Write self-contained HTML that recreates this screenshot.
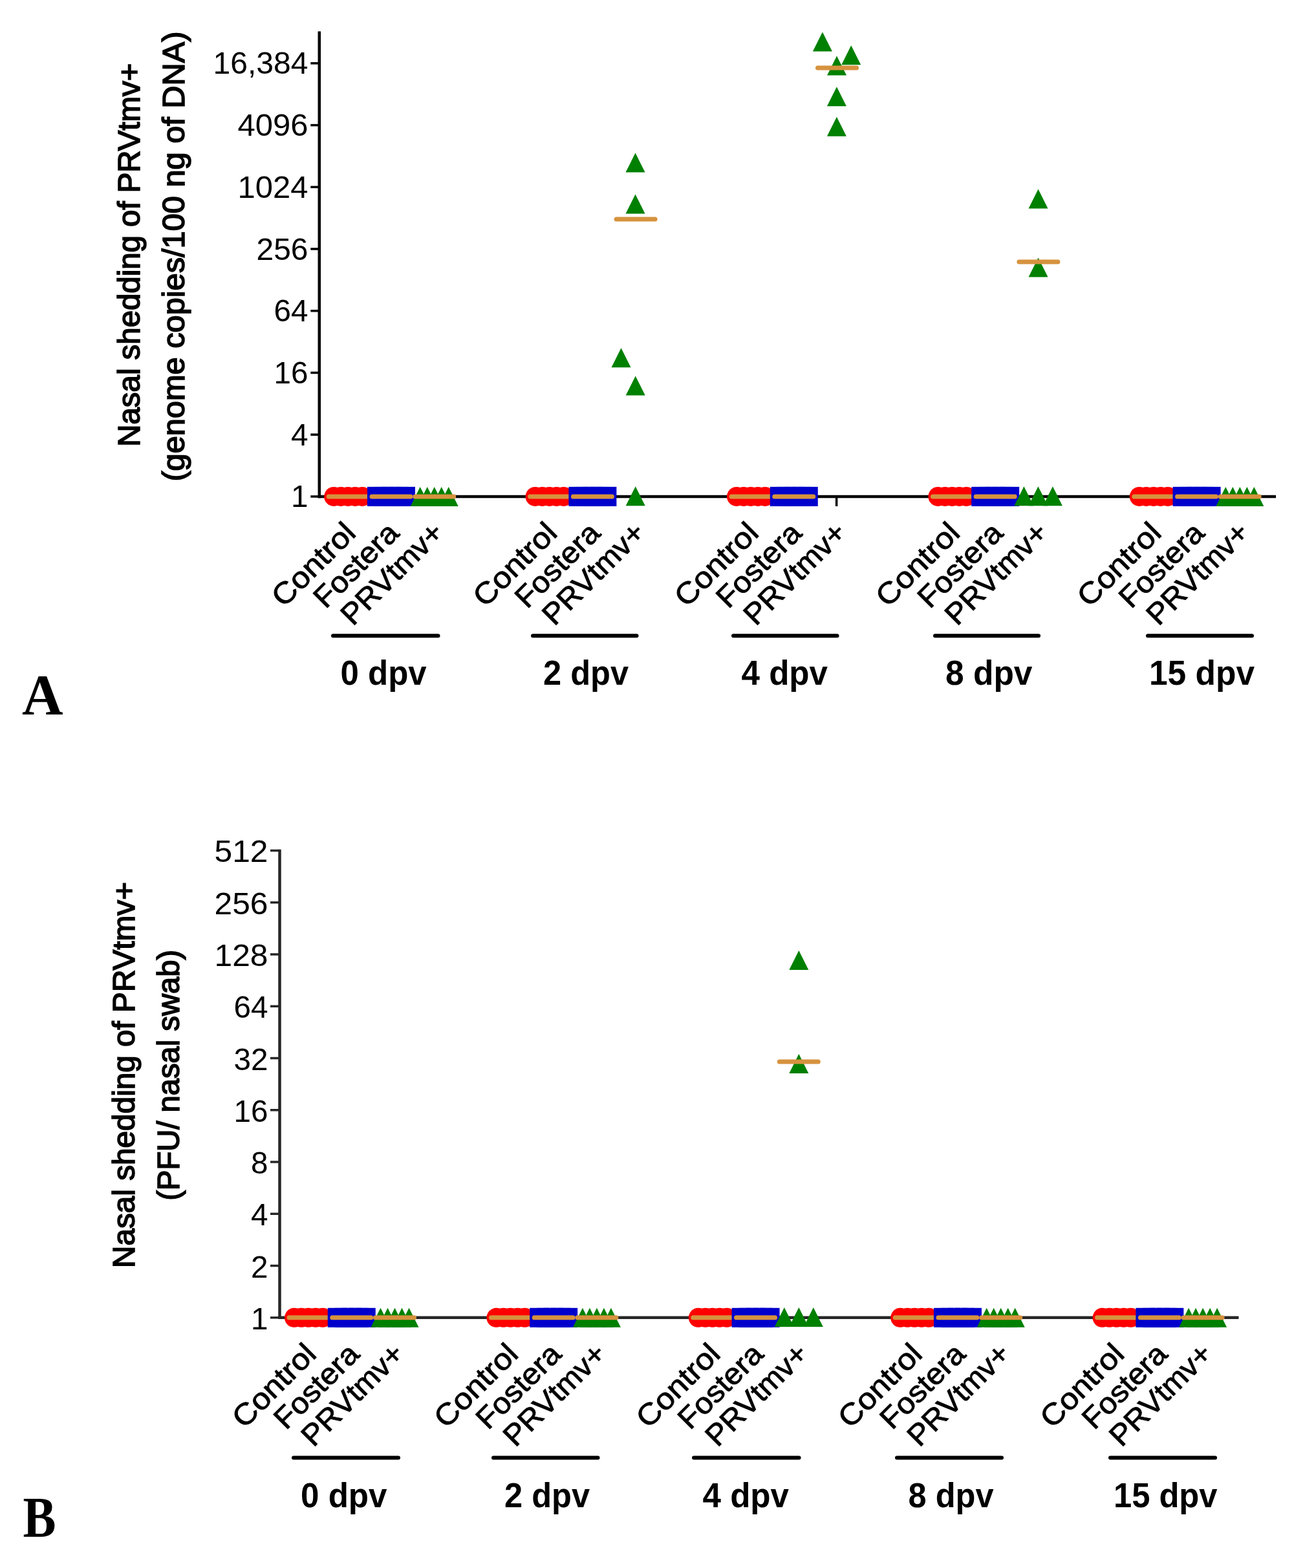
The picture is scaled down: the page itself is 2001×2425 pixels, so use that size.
<!DOCTYPE html>
<html><head><meta charset="utf-8"><title>Nasal shedding of PRVtmv+</title><style>html,body{margin:0;padding:0;background:#fff;}svg{display:block;}</style></head><body>
<svg width="2001" height="2425" viewBox="0 0 2001 2425">
<rect width="2001" height="2425" fill="#fff"/>
<text transform="translate(215.5,394.2) rotate(-90)" font-family="Liberation Sans, sans-serif" font-size="47.5" stroke="#000" stroke-width="1.6" text-anchor="middle" textLength="593" lengthAdjust="spacingAndGlyphs">Nasal shedding of PRVtmv+</text>
<text transform="translate(285,396.6) rotate(-90)" font-family="Liberation Sans, sans-serif" font-size="47.5" stroke="#000" stroke-width="1.6" text-anchor="middle" textLength="696" lengthAdjust="spacingAndGlyphs">(genome copies/100 ng of DNA)</text>
<line x1="480.3" y1="97.86" x2="493.8" y2="97.86" stroke="#000" stroke-width="3.5"/>
<text x="476.5" y="114.36" font-family="Liberation Sans, sans-serif" font-size="47.5" text-anchor="end" textLength="147" lengthAdjust="spacingAndGlyphs">16,384</text>
<line x1="480.3" y1="193.58" x2="493.8" y2="193.58" stroke="#000" stroke-width="3.5"/>
<text x="476.5" y="210.08" font-family="Liberation Sans, sans-serif" font-size="47.5" text-anchor="end" textLength="109" lengthAdjust="spacingAndGlyphs">4096</text>
<line x1="480.3" y1="289.30" x2="493.8" y2="289.30" stroke="#000" stroke-width="3.5"/>
<text x="476.5" y="305.80" font-family="Liberation Sans, sans-serif" font-size="47.5" text-anchor="end" textLength="109" lengthAdjust="spacingAndGlyphs">1024</text>
<line x1="480.3" y1="385.02" x2="493.8" y2="385.02" stroke="#000" stroke-width="3.5"/>
<text x="476.5" y="401.52" font-family="Liberation Sans, sans-serif" font-size="47.5" text-anchor="end" textLength="80" lengthAdjust="spacingAndGlyphs">256</text>
<line x1="480.3" y1="480.74" x2="493.8" y2="480.74" stroke="#000" stroke-width="3.5"/>
<text x="476.5" y="497.24" font-family="Liberation Sans, sans-serif" font-size="47.5" text-anchor="end" textLength="53" lengthAdjust="spacingAndGlyphs">64</text>
<line x1="480.3" y1="576.46" x2="493.8" y2="576.46" stroke="#000" stroke-width="3.5"/>
<text x="476.5" y="592.96" font-family="Liberation Sans, sans-serif" font-size="47.5" text-anchor="end" textLength="53" lengthAdjust="spacingAndGlyphs">16</text>
<line x1="480.3" y1="672.18" x2="493.8" y2="672.18" stroke="#000" stroke-width="3.5"/>
<text x="476.5" y="688.68" font-family="Liberation Sans, sans-serif" font-size="47.5" text-anchor="end" textLength="26.5" lengthAdjust="spacingAndGlyphs">4</text>
<line x1="480.3" y1="767.90" x2="493.8" y2="767.90" stroke="#000" stroke-width="3.5"/>
<text x="476.5" y="784.40" font-family="Liberation Sans, sans-serif" font-size="47.5" text-anchor="end" textLength="26.5" lengthAdjust="spacingAndGlyphs">1</text>
<line x1="493.8" y1="48.5" x2="493.8" y2="770.15" stroke="#000" stroke-width="4.5"/>
<line x1="491.55" y1="767.9" x2="1973" y2="767.9" stroke="#000" stroke-width="4.5"/>
<line x1="1293.6" y1="767.9" x2="1293.6" y2="782.9" stroke="#000" stroke-width="3.5"/>
<circle cx="516.20" cy="767.90" r="15.00" fill="#FF0000"/>
<circle cx="527.20" cy="767.90" r="15.00" fill="#FF0000"/>
<circle cx="538.20" cy="767.90" r="15.00" fill="#FF0000"/>
<circle cx="549.20" cy="767.90" r="15.00" fill="#FF0000"/>
<circle cx="560.20" cy="767.90" r="15.00" fill="#FF0000"/>
<line x1="508.20" y1="767.90" x2="568.20" y2="767.90" stroke="#D6923E" stroke-width="7" stroke-linecap="round"/>
<rect x="567.95" y="752.90" width="30" height="30" fill="#0000CC"/>
<rect x="578.95" y="752.90" width="30" height="30" fill="#0000CC"/>
<rect x="589.95" y="752.90" width="30" height="30" fill="#0000CC"/>
<rect x="600.95" y="752.90" width="30" height="30" fill="#0000CC"/>
<rect x="611.95" y="752.90" width="30" height="30" fill="#0000CC"/>
<line x1="574.95" y1="767.90" x2="634.95" y2="767.90" stroke="#D6923E" stroke-width="7" stroke-linecap="round"/>
<path d="M649.70,752.90L664.70,782.90L634.70,782.90Z" fill="#008000"/>
<path d="M660.70,752.90L675.70,782.90L645.70,782.90Z" fill="#008000"/>
<path d="M671.70,752.90L686.70,782.90L656.70,782.90Z" fill="#008000"/>
<path d="M682.70,752.90L697.70,782.90L667.70,782.90Z" fill="#008000"/>
<path d="M693.70,752.90L708.70,782.90L678.70,782.90Z" fill="#008000"/>
<line x1="641.70" y1="767.90" x2="701.70" y2="767.90" stroke="#D6923E" stroke-width="7" stroke-linecap="round"/>
<circle cx="827.60" cy="767.90" r="15.00" fill="#FF0000"/>
<circle cx="838.60" cy="767.90" r="15.00" fill="#FF0000"/>
<circle cx="849.60" cy="767.90" r="15.00" fill="#FF0000"/>
<circle cx="860.60" cy="767.90" r="15.00" fill="#FF0000"/>
<circle cx="871.60" cy="767.90" r="15.00" fill="#FF0000"/>
<line x1="819.60" y1="767.90" x2="879.60" y2="767.90" stroke="#D6923E" stroke-width="7" stroke-linecap="round"/>
<rect x="879.35" y="752.90" width="30" height="30" fill="#0000CC"/>
<rect x="890.35" y="752.90" width="30" height="30" fill="#0000CC"/>
<rect x="901.35" y="752.90" width="30" height="30" fill="#0000CC"/>
<rect x="912.35" y="752.90" width="30" height="30" fill="#0000CC"/>
<rect x="923.35" y="752.90" width="30" height="30" fill="#0000CC"/>
<line x1="886.35" y1="767.90" x2="946.35" y2="767.90" stroke="#D6923E" stroke-width="7" stroke-linecap="round"/>
<path d="M982.50,236.60L997.50,266.60L967.50,266.60Z" fill="#008000"/>
<path d="M982.50,300.50L997.50,330.50L967.50,330.50Z" fill="#008000"/>
<path d="M960.50,538.25L975.50,568.25L945.50,568.25Z" fill="#008000"/>
<path d="M982.70,581.50L997.70,611.50L967.70,611.50Z" fill="#008000"/>
<path d="M982.70,752.20L997.70,782.20L967.70,782.20Z" fill="#008000"/>
<line x1="953.10" y1="339.00" x2="1013.10" y2="339.00" stroke="#D6923E" stroke-width="7" stroke-linecap="round"/>
<circle cx="1139.00" cy="767.90" r="15.00" fill="#FF0000"/>
<circle cx="1150.00" cy="767.90" r="15.00" fill="#FF0000"/>
<circle cx="1161.00" cy="767.90" r="15.00" fill="#FF0000"/>
<circle cx="1172.00" cy="767.90" r="15.00" fill="#FF0000"/>
<circle cx="1183.00" cy="767.90" r="15.00" fill="#FF0000"/>
<line x1="1131.00" y1="767.90" x2="1191.00" y2="767.90" stroke="#D6923E" stroke-width="7" stroke-linecap="round"/>
<rect x="1190.75" y="752.90" width="30" height="30" fill="#0000CC"/>
<rect x="1201.75" y="752.90" width="30" height="30" fill="#0000CC"/>
<rect x="1212.75" y="752.90" width="30" height="30" fill="#0000CC"/>
<rect x="1223.75" y="752.90" width="30" height="30" fill="#0000CC"/>
<rect x="1234.75" y="752.90" width="30" height="30" fill="#0000CC"/>
<line x1="1197.75" y1="767.90" x2="1257.75" y2="767.90" stroke="#D6923E" stroke-width="7" stroke-linecap="round"/>
<path d="M1271.90,49.60L1286.90,79.60L1256.90,79.60Z" fill="#008000"/>
<path d="M1316.20,70.20L1331.20,100.20L1301.20,100.20Z" fill="#008000"/>
<path d="M1294.00,86.60L1309.00,116.60L1279.00,116.60Z" fill="#008000"/>
<path d="M1293.90,134.25L1308.90,164.25L1278.90,164.25Z" fill="#008000"/>
<path d="M1293.90,180.70L1308.90,210.70L1278.90,210.70Z" fill="#008000"/>
<line x1="1264.50" y1="105.00" x2="1324.50" y2="105.00" stroke="#D6923E" stroke-width="7" stroke-linecap="round"/>
<circle cx="1450.40" cy="767.90" r="15.00" fill="#FF0000"/>
<circle cx="1461.40" cy="767.90" r="15.00" fill="#FF0000"/>
<circle cx="1472.40" cy="767.90" r="15.00" fill="#FF0000"/>
<circle cx="1483.40" cy="767.90" r="15.00" fill="#FF0000"/>
<circle cx="1494.40" cy="767.90" r="15.00" fill="#FF0000"/>
<line x1="1442.40" y1="767.90" x2="1502.40" y2="767.90" stroke="#D6923E" stroke-width="7" stroke-linecap="round"/>
<rect x="1502.15" y="752.90" width="30" height="30" fill="#0000CC"/>
<rect x="1513.15" y="752.90" width="30" height="30" fill="#0000CC"/>
<rect x="1524.15" y="752.90" width="30" height="30" fill="#0000CC"/>
<rect x="1535.15" y="752.90" width="30" height="30" fill="#0000CC"/>
<rect x="1546.15" y="752.90" width="30" height="30" fill="#0000CC"/>
<line x1="1509.15" y1="767.90" x2="1569.15" y2="767.90" stroke="#D6923E" stroke-width="7" stroke-linecap="round"/>
<path d="M1605.50,292.50L1620.50,322.50L1590.50,322.50Z" fill="#008000"/>
<path d="M1605.50,398.50L1620.50,428.50L1590.50,428.50Z" fill="#008000"/>
<path d="M1583.40,752.20L1598.40,782.20L1568.40,782.20Z" fill="#008000"/>
<path d="M1605.40,752.20L1620.40,782.20L1590.40,782.20Z" fill="#008000"/>
<path d="M1627.90,752.20L1642.90,782.20L1612.90,782.20Z" fill="#008000"/>
<line x1="1575.90" y1="405.00" x2="1635.90" y2="405.00" stroke="#D6923E" stroke-width="7" stroke-linecap="round"/>
<circle cx="1761.80" cy="767.90" r="15.00" fill="#FF0000"/>
<circle cx="1772.80" cy="767.90" r="15.00" fill="#FF0000"/>
<circle cx="1783.80" cy="767.90" r="15.00" fill="#FF0000"/>
<circle cx="1794.80" cy="767.90" r="15.00" fill="#FF0000"/>
<circle cx="1805.80" cy="767.90" r="15.00" fill="#FF0000"/>
<line x1="1753.80" y1="767.90" x2="1813.80" y2="767.90" stroke="#D6923E" stroke-width="7" stroke-linecap="round"/>
<rect x="1813.55" y="752.90" width="30" height="30" fill="#0000CC"/>
<rect x="1824.55" y="752.90" width="30" height="30" fill="#0000CC"/>
<rect x="1835.55" y="752.90" width="30" height="30" fill="#0000CC"/>
<rect x="1846.55" y="752.90" width="30" height="30" fill="#0000CC"/>
<rect x="1857.55" y="752.90" width="30" height="30" fill="#0000CC"/>
<line x1="1820.55" y1="767.90" x2="1880.55" y2="767.90" stroke="#D6923E" stroke-width="7" stroke-linecap="round"/>
<path d="M1895.30,752.90L1910.30,782.90L1880.30,782.90Z" fill="#008000"/>
<path d="M1906.30,752.90L1921.30,782.90L1891.30,782.90Z" fill="#008000"/>
<path d="M1917.30,752.90L1932.30,782.90L1902.30,782.90Z" fill="#008000"/>
<path d="M1928.30,752.90L1943.30,782.90L1913.30,782.90Z" fill="#008000"/>
<path d="M1939.30,752.90L1954.30,782.90L1924.30,782.90Z" fill="#008000"/>
<line x1="1887.30" y1="767.90" x2="1947.30" y2="767.90" stroke="#D6923E" stroke-width="7" stroke-linecap="round"/>
<text transform="translate(552.70,826.90) rotate(-45)" font-family="Liberation Sans, sans-serif" font-size="46" stroke="#000" stroke-width="0.9" text-anchor="end" textLength="161" lengthAdjust="spacingAndGlyphs">Control</text>
<text transform="translate(619.45,826.90) rotate(-45)" font-family="Liberation Sans, sans-serif" font-size="46" stroke="#000" stroke-width="0.9" text-anchor="end" textLength="164" lengthAdjust="spacingAndGlyphs">Fostera</text>
<text transform="translate(688.70,826.40) rotate(-45)" font-family="Liberation Sans, sans-serif" font-size="46" stroke="#000" stroke-width="0.9" text-anchor="end" textLength="202" lengthAdjust="spacingAndGlyphs">PRVtmv+</text>
<text transform="translate(864.10,826.90) rotate(-45)" font-family="Liberation Sans, sans-serif" font-size="46" stroke="#000" stroke-width="0.9" text-anchor="end" textLength="161" lengthAdjust="spacingAndGlyphs">Control</text>
<text transform="translate(930.85,826.90) rotate(-45)" font-family="Liberation Sans, sans-serif" font-size="46" stroke="#000" stroke-width="0.9" text-anchor="end" textLength="164" lengthAdjust="spacingAndGlyphs">Fostera</text>
<text transform="translate(1000.10,826.40) rotate(-45)" font-family="Liberation Sans, sans-serif" font-size="46" stroke="#000" stroke-width="0.9" text-anchor="end" textLength="202" lengthAdjust="spacingAndGlyphs">PRVtmv+</text>
<text transform="translate(1175.50,826.90) rotate(-45)" font-family="Liberation Sans, sans-serif" font-size="46" stroke="#000" stroke-width="0.9" text-anchor="end" textLength="161" lengthAdjust="spacingAndGlyphs">Control</text>
<text transform="translate(1242.25,826.90) rotate(-45)" font-family="Liberation Sans, sans-serif" font-size="46" stroke="#000" stroke-width="0.9" text-anchor="end" textLength="164" lengthAdjust="spacingAndGlyphs">Fostera</text>
<text transform="translate(1311.50,826.40) rotate(-45)" font-family="Liberation Sans, sans-serif" font-size="46" stroke="#000" stroke-width="0.9" text-anchor="end" textLength="202" lengthAdjust="spacingAndGlyphs">PRVtmv+</text>
<text transform="translate(1486.90,826.90) rotate(-45)" font-family="Liberation Sans, sans-serif" font-size="46" stroke="#000" stroke-width="0.9" text-anchor="end" textLength="161" lengthAdjust="spacingAndGlyphs">Control</text>
<text transform="translate(1553.65,826.90) rotate(-45)" font-family="Liberation Sans, sans-serif" font-size="46" stroke="#000" stroke-width="0.9" text-anchor="end" textLength="164" lengthAdjust="spacingAndGlyphs">Fostera</text>
<text transform="translate(1622.90,826.40) rotate(-45)" font-family="Liberation Sans, sans-serif" font-size="46" stroke="#000" stroke-width="0.9" text-anchor="end" textLength="202" lengthAdjust="spacingAndGlyphs">PRVtmv+</text>
<text transform="translate(1798.30,826.90) rotate(-45)" font-family="Liberation Sans, sans-serif" font-size="46" stroke="#000" stroke-width="0.9" text-anchor="end" textLength="161" lengthAdjust="spacingAndGlyphs">Control</text>
<text transform="translate(1865.05,826.90) rotate(-45)" font-family="Liberation Sans, sans-serif" font-size="46" stroke="#000" stroke-width="0.9" text-anchor="end" textLength="164" lengthAdjust="spacingAndGlyphs">Fostera</text>
<text transform="translate(1934.30,826.40) rotate(-45)" font-family="Liberation Sans, sans-serif" font-size="46" stroke="#000" stroke-width="0.9" text-anchor="end" textLength="202" lengthAdjust="spacingAndGlyphs">PRVtmv+</text>
<line x1="515" y1="983.25" x2="677.5" y2="983.25" stroke="#000" stroke-width="6" stroke-linecap="round"/>
<text x="593.12" y="1058.6" font-family="Liberation Sans, sans-serif" font-weight="bold" font-size="54" text-anchor="middle" textLength="133.25" lengthAdjust="spacingAndGlyphs">0 dpv</text>
<line x1="824" y1="983.25" x2="984.5" y2="983.25" stroke="#000" stroke-width="6" stroke-linecap="round"/>
<text x="906.00" y="1058.6" font-family="Liberation Sans, sans-serif" font-weight="bold" font-size="54" text-anchor="middle" textLength="132" lengthAdjust="spacingAndGlyphs">2 dpv</text>
<line x1="1134" y1="983.25" x2="1294.5" y2="983.25" stroke="#000" stroke-width="6" stroke-linecap="round"/>
<text x="1213.25" y="1058.6" font-family="Liberation Sans, sans-serif" font-weight="bold" font-size="54" text-anchor="middle" textLength="133.5" lengthAdjust="spacingAndGlyphs">4 dpv</text>
<line x1="1446" y1="983.25" x2="1606" y2="983.25" stroke="#000" stroke-width="6" stroke-linecap="round"/>
<text x="1529.25" y="1058.6" font-family="Liberation Sans, sans-serif" font-weight="bold" font-size="54" text-anchor="middle" textLength="134.5" lengthAdjust="spacingAndGlyphs">8 dpv</text>
<line x1="1775" y1="983.25" x2="1936" y2="983.25" stroke="#000" stroke-width="6" stroke-linecap="round"/>
<text x="1858.50" y="1058.6" font-family="Liberation Sans, sans-serif" font-weight="bold" font-size="54" text-anchor="middle" textLength="163" lengthAdjust="spacingAndGlyphs">15 dpv</text>
<text x="34" y="1104" font-family="Liberation Serif, serif" font-weight="bold" font-size="88">A</text>
<text transform="translate(207.5,1662.5) rotate(-90)" font-family="Liberation Sans, sans-serif" font-size="47.5" stroke="#000" stroke-width="1.6" text-anchor="middle" textLength="597" lengthAdjust="spacingAndGlyphs">Nasal shedding of PRVtmv+</text>
<text transform="translate(277.2,1662.8) rotate(-90)" font-family="Liberation Sans, sans-serif" font-size="47.5" stroke="#000" stroke-width="1.6" text-anchor="middle" textLength="388" lengthAdjust="spacingAndGlyphs">(PFU/ nasal swab)</text>
<line x1="418.0" y1="1315.46" x2="432.5" y2="1315.46" stroke="#262626" stroke-width="3.5"/>
<text x="414.5" y="1333.46" font-family="Liberation Sans, sans-serif" font-size="47.5" text-anchor="end" textLength="83" lengthAdjust="spacingAndGlyphs">512</text>
<line x1="418.0" y1="1395.72" x2="432.5" y2="1395.72" stroke="#262626" stroke-width="3.5"/>
<text x="414.5" y="1413.72" font-family="Liberation Sans, sans-serif" font-size="47.5" text-anchor="end" textLength="83" lengthAdjust="spacingAndGlyphs">256</text>
<line x1="418.0" y1="1475.98" x2="432.5" y2="1475.98" stroke="#262626" stroke-width="3.5"/>
<text x="414.5" y="1493.98" font-family="Liberation Sans, sans-serif" font-size="47.5" text-anchor="end" textLength="83" lengthAdjust="spacingAndGlyphs">128</text>
<line x1="418.0" y1="1556.24" x2="432.5" y2="1556.24" stroke="#262626" stroke-width="3.5"/>
<text x="414.5" y="1574.24" font-family="Liberation Sans, sans-serif" font-size="47.5" text-anchor="end" textLength="53" lengthAdjust="spacingAndGlyphs">64</text>
<line x1="418.0" y1="1636.50" x2="432.5" y2="1636.50" stroke="#262626" stroke-width="3.5"/>
<text x="414.5" y="1654.50" font-family="Liberation Sans, sans-serif" font-size="47.5" text-anchor="end" textLength="53" lengthAdjust="spacingAndGlyphs">32</text>
<line x1="418.0" y1="1716.76" x2="432.5" y2="1716.76" stroke="#262626" stroke-width="3.5"/>
<text x="414.5" y="1734.76" font-family="Liberation Sans, sans-serif" font-size="47.5" text-anchor="end" textLength="53" lengthAdjust="spacingAndGlyphs">16</text>
<line x1="418.0" y1="1797.02" x2="432.5" y2="1797.02" stroke="#262626" stroke-width="3.5"/>
<text x="414.5" y="1815.02" font-family="Liberation Sans, sans-serif" font-size="47.5" text-anchor="end" textLength="26.5" lengthAdjust="spacingAndGlyphs">8</text>
<line x1="418.0" y1="1877.28" x2="432.5" y2="1877.28" stroke="#262626" stroke-width="3.5"/>
<text x="414.5" y="1895.28" font-family="Liberation Sans, sans-serif" font-size="47.5" text-anchor="end" textLength="26.5" lengthAdjust="spacingAndGlyphs">4</text>
<line x1="418.0" y1="1957.54" x2="432.5" y2="1957.54" stroke="#262626" stroke-width="3.5"/>
<text x="414.5" y="1975.54" font-family="Liberation Sans, sans-serif" font-size="47.5" text-anchor="end" textLength="26.5" lengthAdjust="spacingAndGlyphs">2</text>
<line x1="418.0" y1="2037.80" x2="432.5" y2="2037.80" stroke="#262626" stroke-width="3.5"/>
<text x="414.5" y="2055.80" font-family="Liberation Sans, sans-serif" font-size="47.5" text-anchor="end" textLength="26.5" lengthAdjust="spacingAndGlyphs">1</text>
<line x1="432.5" y1="1313.8" x2="432.5" y2="2040.05" stroke="#262626" stroke-width="4.5"/>
<line x1="430.25" y1="2037.8" x2="1915.5" y2="2037.8" stroke="#262626" stroke-width="4.5"/>
<circle cx="455.00" cy="2037.80" r="15.00" fill="#FF0000"/>
<circle cx="466.00" cy="2037.80" r="15.00" fill="#FF0000"/>
<circle cx="477.00" cy="2037.80" r="15.00" fill="#FF0000"/>
<circle cx="488.00" cy="2037.80" r="15.00" fill="#FF0000"/>
<circle cx="499.00" cy="2037.80" r="15.00" fill="#FF0000"/>
<line x1="447.00" y1="2037.80" x2="507.00" y2="2037.80" stroke="#D6923E" stroke-width="7" stroke-linecap="round"/>
<rect x="506.75" y="2022.80" width="30" height="30" fill="#0000CC"/>
<rect x="517.75" y="2022.80" width="30" height="30" fill="#0000CC"/>
<rect x="528.75" y="2022.80" width="30" height="30" fill="#0000CC"/>
<rect x="539.75" y="2022.80" width="30" height="30" fill="#0000CC"/>
<rect x="550.75" y="2022.80" width="30" height="30" fill="#0000CC"/>
<line x1="513.75" y1="2037.80" x2="573.75" y2="2037.80" stroke="#D6923E" stroke-width="7" stroke-linecap="round"/>
<path d="M588.50,2022.80L603.50,2052.80L573.50,2052.80Z" fill="#008000"/>
<path d="M599.50,2022.80L614.50,2052.80L584.50,2052.80Z" fill="#008000"/>
<path d="M610.50,2022.80L625.50,2052.80L595.50,2052.80Z" fill="#008000"/>
<path d="M621.50,2022.80L636.50,2052.80L606.50,2052.80Z" fill="#008000"/>
<path d="M632.50,2022.80L647.50,2052.80L617.50,2052.80Z" fill="#008000"/>
<line x1="580.50" y1="2037.80" x2="640.50" y2="2037.80" stroke="#D6923E" stroke-width="7" stroke-linecap="round"/>
<circle cx="767.40" cy="2037.80" r="15.00" fill="#FF0000"/>
<circle cx="778.40" cy="2037.80" r="15.00" fill="#FF0000"/>
<circle cx="789.40" cy="2037.80" r="15.00" fill="#FF0000"/>
<circle cx="800.40" cy="2037.80" r="15.00" fill="#FF0000"/>
<circle cx="811.40" cy="2037.80" r="15.00" fill="#FF0000"/>
<line x1="759.40" y1="2037.80" x2="819.40" y2="2037.80" stroke="#D6923E" stroke-width="7" stroke-linecap="round"/>
<rect x="819.15" y="2022.80" width="30" height="30" fill="#0000CC"/>
<rect x="830.15" y="2022.80" width="30" height="30" fill="#0000CC"/>
<rect x="841.15" y="2022.80" width="30" height="30" fill="#0000CC"/>
<rect x="852.15" y="2022.80" width="30" height="30" fill="#0000CC"/>
<rect x="863.15" y="2022.80" width="30" height="30" fill="#0000CC"/>
<line x1="826.15" y1="2037.80" x2="886.15" y2="2037.80" stroke="#D6923E" stroke-width="7" stroke-linecap="round"/>
<path d="M900.90,2022.80L915.90,2052.80L885.90,2052.80Z" fill="#008000"/>
<path d="M911.90,2022.80L926.90,2052.80L896.90,2052.80Z" fill="#008000"/>
<path d="M922.90,2022.80L937.90,2052.80L907.90,2052.80Z" fill="#008000"/>
<path d="M933.90,2022.80L948.90,2052.80L918.90,2052.80Z" fill="#008000"/>
<path d="M944.90,2022.80L959.90,2052.80L929.90,2052.80Z" fill="#008000"/>
<line x1="892.90" y1="2037.80" x2="952.90" y2="2037.80" stroke="#D6923E" stroke-width="7" stroke-linecap="round"/>
<circle cx="1079.80" cy="2037.80" r="15.00" fill="#FF0000"/>
<circle cx="1090.80" cy="2037.80" r="15.00" fill="#FF0000"/>
<circle cx="1101.80" cy="2037.80" r="15.00" fill="#FF0000"/>
<circle cx="1112.80" cy="2037.80" r="15.00" fill="#FF0000"/>
<circle cx="1123.80" cy="2037.80" r="15.00" fill="#FF0000"/>
<line x1="1071.80" y1="2037.80" x2="1131.80" y2="2037.80" stroke="#D6923E" stroke-width="7" stroke-linecap="round"/>
<rect x="1131.55" y="2022.80" width="30" height="30" fill="#0000CC"/>
<rect x="1142.55" y="2022.80" width="30" height="30" fill="#0000CC"/>
<rect x="1153.55" y="2022.80" width="30" height="30" fill="#0000CC"/>
<rect x="1164.55" y="2022.80" width="30" height="30" fill="#0000CC"/>
<rect x="1175.55" y="2022.80" width="30" height="30" fill="#0000CC"/>
<line x1="1138.55" y1="2037.80" x2="1198.55" y2="2037.80" stroke="#D6923E" stroke-width="7" stroke-linecap="round"/>
<path d="M1235.30,1470.00L1250.30,1500.00L1220.30,1500.00Z" fill="#008000"/>
<path d="M1235.30,1630.00L1250.30,1660.00L1220.30,1660.00Z" fill="#008000"/>
<path d="M1212.80,2022.00L1227.80,2052.00L1197.80,2052.00Z" fill="#008000"/>
<path d="M1235.30,2022.00L1250.30,2052.00L1220.30,2052.00Z" fill="#008000"/>
<path d="M1257.80,2022.00L1272.80,2052.00L1242.80,2052.00Z" fill="#008000"/>
<line x1="1205.30" y1="1642.00" x2="1265.30" y2="1642.00" stroke="#D6923E" stroke-width="7" stroke-linecap="round"/>
<circle cx="1392.20" cy="2037.80" r="15.00" fill="#FF0000"/>
<circle cx="1403.20" cy="2037.80" r="15.00" fill="#FF0000"/>
<circle cx="1414.20" cy="2037.80" r="15.00" fill="#FF0000"/>
<circle cx="1425.20" cy="2037.80" r="15.00" fill="#FF0000"/>
<circle cx="1436.20" cy="2037.80" r="15.00" fill="#FF0000"/>
<line x1="1384.20" y1="2037.80" x2="1444.20" y2="2037.80" stroke="#D6923E" stroke-width="7" stroke-linecap="round"/>
<rect x="1443.95" y="2022.80" width="30" height="30" fill="#0000CC"/>
<rect x="1454.95" y="2022.80" width="30" height="30" fill="#0000CC"/>
<rect x="1465.95" y="2022.80" width="30" height="30" fill="#0000CC"/>
<rect x="1476.95" y="2022.80" width="30" height="30" fill="#0000CC"/>
<rect x="1487.95" y="2022.80" width="30" height="30" fill="#0000CC"/>
<line x1="1450.95" y1="2037.80" x2="1510.95" y2="2037.80" stroke="#D6923E" stroke-width="7" stroke-linecap="round"/>
<path d="M1525.70,2022.80L1540.70,2052.80L1510.70,2052.80Z" fill="#008000"/>
<path d="M1536.70,2022.80L1551.70,2052.80L1521.70,2052.80Z" fill="#008000"/>
<path d="M1547.70,2022.80L1562.70,2052.80L1532.70,2052.80Z" fill="#008000"/>
<path d="M1558.70,2022.80L1573.70,2052.80L1543.70,2052.80Z" fill="#008000"/>
<path d="M1569.70,2022.80L1584.70,2052.80L1554.70,2052.80Z" fill="#008000"/>
<line x1="1517.70" y1="2037.80" x2="1577.70" y2="2037.80" stroke="#D6923E" stroke-width="7" stroke-linecap="round"/>
<circle cx="1704.60" cy="2037.80" r="15.00" fill="#FF0000"/>
<circle cx="1715.60" cy="2037.80" r="15.00" fill="#FF0000"/>
<circle cx="1726.60" cy="2037.80" r="15.00" fill="#FF0000"/>
<circle cx="1737.60" cy="2037.80" r="15.00" fill="#FF0000"/>
<circle cx="1748.60" cy="2037.80" r="15.00" fill="#FF0000"/>
<line x1="1696.60" y1="2037.80" x2="1756.60" y2="2037.80" stroke="#D6923E" stroke-width="7" stroke-linecap="round"/>
<rect x="1756.35" y="2022.80" width="30" height="30" fill="#0000CC"/>
<rect x="1767.35" y="2022.80" width="30" height="30" fill="#0000CC"/>
<rect x="1778.35" y="2022.80" width="30" height="30" fill="#0000CC"/>
<rect x="1789.35" y="2022.80" width="30" height="30" fill="#0000CC"/>
<rect x="1800.35" y="2022.80" width="30" height="30" fill="#0000CC"/>
<line x1="1763.35" y1="2037.80" x2="1823.35" y2="2037.80" stroke="#D6923E" stroke-width="7" stroke-linecap="round"/>
<path d="M1838.10,2022.80L1853.10,2052.80L1823.10,2052.80Z" fill="#008000"/>
<path d="M1849.10,2022.80L1864.10,2052.80L1834.10,2052.80Z" fill="#008000"/>
<path d="M1860.10,2022.80L1875.10,2052.80L1845.10,2052.80Z" fill="#008000"/>
<path d="M1871.10,2022.80L1886.10,2052.80L1856.10,2052.80Z" fill="#008000"/>
<path d="M1882.10,2022.80L1897.10,2052.80L1867.10,2052.80Z" fill="#008000"/>
<line x1="1830.10" y1="2037.80" x2="1890.10" y2="2037.80" stroke="#D6923E" stroke-width="7" stroke-linecap="round"/>
<text transform="translate(491.50,2096.80) rotate(-45)" font-family="Liberation Sans, sans-serif" font-size="46" stroke="#000" stroke-width="0.9" text-anchor="end" textLength="161" lengthAdjust="spacingAndGlyphs">Control</text>
<text transform="translate(558.25,2096.80) rotate(-45)" font-family="Liberation Sans, sans-serif" font-size="46" stroke="#000" stroke-width="0.9" text-anchor="end" textLength="164" lengthAdjust="spacingAndGlyphs">Fostera</text>
<text transform="translate(627.50,2096.30) rotate(-45)" font-family="Liberation Sans, sans-serif" font-size="46" stroke="#000" stroke-width="0.9" text-anchor="end" textLength="202" lengthAdjust="spacingAndGlyphs">PRVtmv+</text>
<text transform="translate(803.90,2096.80) rotate(-45)" font-family="Liberation Sans, sans-serif" font-size="46" stroke="#000" stroke-width="0.9" text-anchor="end" textLength="161" lengthAdjust="spacingAndGlyphs">Control</text>
<text transform="translate(870.65,2096.80) rotate(-45)" font-family="Liberation Sans, sans-serif" font-size="46" stroke="#000" stroke-width="0.9" text-anchor="end" textLength="164" lengthAdjust="spacingAndGlyphs">Fostera</text>
<text transform="translate(939.90,2096.30) rotate(-45)" font-family="Liberation Sans, sans-serif" font-size="46" stroke="#000" stroke-width="0.9" text-anchor="end" textLength="202" lengthAdjust="spacingAndGlyphs">PRVtmv+</text>
<text transform="translate(1116.30,2096.80) rotate(-45)" font-family="Liberation Sans, sans-serif" font-size="46" stroke="#000" stroke-width="0.9" text-anchor="end" textLength="161" lengthAdjust="spacingAndGlyphs">Control</text>
<text transform="translate(1183.05,2096.80) rotate(-45)" font-family="Liberation Sans, sans-serif" font-size="46" stroke="#000" stroke-width="0.9" text-anchor="end" textLength="164" lengthAdjust="spacingAndGlyphs">Fostera</text>
<text transform="translate(1252.30,2096.30) rotate(-45)" font-family="Liberation Sans, sans-serif" font-size="46" stroke="#000" stroke-width="0.9" text-anchor="end" textLength="202" lengthAdjust="spacingAndGlyphs">PRVtmv+</text>
<text transform="translate(1428.70,2096.80) rotate(-45)" font-family="Liberation Sans, sans-serif" font-size="46" stroke="#000" stroke-width="0.9" text-anchor="end" textLength="161" lengthAdjust="spacingAndGlyphs">Control</text>
<text transform="translate(1495.45,2096.80) rotate(-45)" font-family="Liberation Sans, sans-serif" font-size="46" stroke="#000" stroke-width="0.9" text-anchor="end" textLength="164" lengthAdjust="spacingAndGlyphs">Fostera</text>
<text transform="translate(1564.70,2096.30) rotate(-45)" font-family="Liberation Sans, sans-serif" font-size="46" stroke="#000" stroke-width="0.9" text-anchor="end" textLength="202" lengthAdjust="spacingAndGlyphs">PRVtmv+</text>
<text transform="translate(1741.10,2096.80) rotate(-45)" font-family="Liberation Sans, sans-serif" font-size="46" stroke="#000" stroke-width="0.9" text-anchor="end" textLength="161" lengthAdjust="spacingAndGlyphs">Control</text>
<text transform="translate(1807.85,2096.80) rotate(-45)" font-family="Liberation Sans, sans-serif" font-size="46" stroke="#000" stroke-width="0.9" text-anchor="end" textLength="164" lengthAdjust="spacingAndGlyphs">Fostera</text>
<text transform="translate(1877.10,2096.30) rotate(-45)" font-family="Liberation Sans, sans-serif" font-size="46" stroke="#000" stroke-width="0.9" text-anchor="end" textLength="202" lengthAdjust="spacingAndGlyphs">PRVtmv+</text>
<line x1="454" y1="2254.5" x2="616" y2="2254.5" stroke="#000" stroke-width="6" stroke-linecap="round"/>
<text x="531.75" y="2330.5" font-family="Liberation Sans, sans-serif" font-weight="bold" font-size="54" text-anchor="middle" textLength="133.5" lengthAdjust="spacingAndGlyphs">0 dpv</text>
<line x1="763" y1="2254.5" x2="924.5" y2="2254.5" stroke="#000" stroke-width="6" stroke-linecap="round"/>
<text x="846.00" y="2330.5" font-family="Liberation Sans, sans-serif" font-weight="bold" font-size="54" text-anchor="middle" textLength="132" lengthAdjust="spacingAndGlyphs">2 dpv</text>
<line x1="1073" y1="2254.5" x2="1235.5" y2="2254.5" stroke="#000" stroke-width="6" stroke-linecap="round"/>
<text x="1153.25" y="2330.5" font-family="Liberation Sans, sans-serif" font-weight="bold" font-size="54" text-anchor="middle" textLength="133.5" lengthAdjust="spacingAndGlyphs">4 dpv</text>
<line x1="1387" y1="2254.5" x2="1549" y2="2254.5" stroke="#000" stroke-width="6" stroke-linecap="round"/>
<text x="1470.50" y="2330.5" font-family="Liberation Sans, sans-serif" font-weight="bold" font-size="54" text-anchor="middle" textLength="132.0" lengthAdjust="spacingAndGlyphs">8 dpv</text>
<line x1="1717" y1="2254.5" x2="1879" y2="2254.5" stroke="#000" stroke-width="6" stroke-linecap="round"/>
<text x="1802.25" y="2330.5" font-family="Liberation Sans, sans-serif" font-weight="bold" font-size="54" text-anchor="middle" textLength="160.5" lengthAdjust="spacingAndGlyphs">15 dpv</text>
<text x="35.5" y="2376" font-family="Liberation Serif, serif" font-weight="bold" font-size="88" textLength="51" lengthAdjust="spacingAndGlyphs">B</text>
</svg>
</body></html>
